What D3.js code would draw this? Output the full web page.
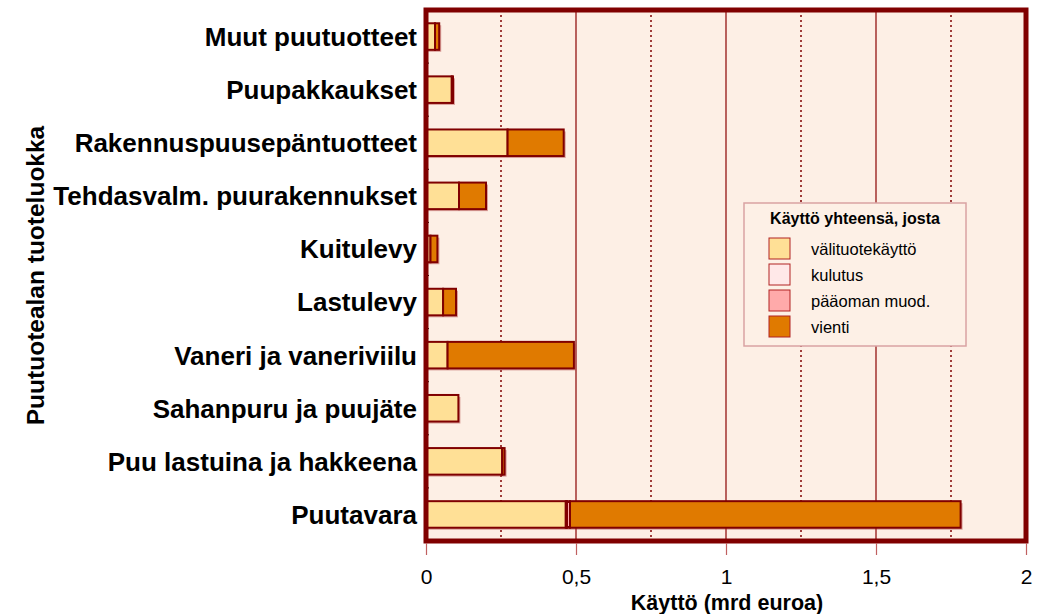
<!DOCTYPE html>
<html>
<head>
<meta charset="utf-8">
<script src="https://cdn.jsdelivr.net/npm/d3@7"></script>
<style>
  body { margin: 0; background: #fff; }
  text { font-family: Arial, "Liberation Sans", sans-serif; }
</style>
</head>
<body>
<svg id="chart" width="1043" height="614"></svg>
<script>
// categories, top to bottom
let categories = ["Muut puutuotteet", "Puupakkaukset", "Rakennuspuusepäntuotteet",
    "Tehdasvalm. puurakennukset", "Kuitulevy", "Lastulevy", "Vaneri ja vaneriviilu",
    "Sahanpuru ja puujäte", "Puu lastuina ja hakkeena", "Puutavara"];

// series values (mrd euroa)
let valituote = [0.030, 0.086, 0.272, 0.110, 0.015, 0.057, 0.072, 0.108, 0.254, 0.466];
let kulutus   = [0.000, 0.000, 0.000, 0.000, 0.000, 0.000, 0.000, 0.000, 0.000, 0.004];
let paaoma    = [0.000, 0.000, 0.000, 0.000, 0.000, 0.000, 0.000, 0.000, 0.000, 0.010];
let vienti    = [0.014, 0.004, 0.187, 0.090, 0.023, 0.043, 0.421, 0.000, 0.008, 1.302];

let seriesNames = ["välituotekäyttö", "kulutus", "pääoman muod.", "vienti"];
let seriesColors = ["#FFE096", "#FFE8E8", "#FFAAAA", "#E07A00"];

let xTicks = [0, 0.5, 1, 1.5, 2];
let xMinor = [0.25, 0.75, 1.25, 1.75];

let svg = d3.select("#chart");
let plotLeft = 426, plotRight = 1026, plotTop = 10, plotBottom = 541;
let dark = "#800000";

let xScale = d3.scaleLinear().domain([0, 2]).range([plotLeft, plotRight]);
let yScale = d3.scaleBand().domain(categories).range([plotTop, plotBottom]).paddingInner(0.5).paddingOuter(0.25);

// plot background
svg.append("rect")
    .attr("x", plotLeft).attr("y", plotTop)
    .attr("width", plotRight - plotLeft).attr("height", plotBottom - plotTop)
    .attr("fill", "#FDEFE5");

// grid lines
svg.append("g").selectAll("line").data(xTicks.slice(1, 4)).enter().append("line")
    .attr("x1", d => xScale(d)).attr("x2", d => xScale(d))
    .attr("y1", plotTop).attr("y2", plotBottom)
    .attr("stroke", "#8B0000").attr("stroke-width", 1.2);
svg.append("g").selectAll("line").data(xMinor).enter().append("line")
    .attr("x1", d => xScale(d)).attr("x2", d => xScale(d))
    .attr("y1", plotTop).attr("y2", plotBottom)
    .attr("stroke", dark).attr("stroke-width", 1.5)
    .attr("stroke-dasharray", "2,3");

// stacked rows
let rows = categories.map((c, i) => {
    let vals = [valituote[i], kulutus[i], paaoma[i], vienti[i]];
    let acc = 0, segs = [];
    vals.forEach((v, k) => {
        if (v > 0) segs.push({cat: c, x0: acc, x1: acc + v, k: k});
        acc += v;
    });
    return {cat: c, total: acc, segs: segs};
});

let bh = yScale.bandwidth();

// soft shadow behind each bar
svg.append("g").selectAll("rect").data(rows).enter().append("rect")
    .attr("x", xScale(0) + 2)
    .attr("y", d => yScale(d.cat) + 2)
    .attr("width", d => xScale(d.total) - xScale(0))
    .attr("height", bh)
    .attr("fill", "#B04040").attr("opacity", 0.45);

let bars = svg.append("g");
rows.forEach(r => {
    bars.selectAll(null).data(r.segs).enter().append("rect")
        .attr("x", d => xScale(d.x0))
        .attr("y", d => yScale(d.cat))
        .attr("width", d => xScale(d.x1) - xScale(d.x0))
        .attr("height", bh)
        .attr("fill", d => seriesColors[d.k])
        .attr("stroke", dark).attr("stroke-width", 2);
});

// small marks at band boundaries on the left axis
let bounds = categories.slice(1).map(c => yScale(c) - yScale.step() * yScale.paddingInner() / 2);
svg.append("g").selectAll("line").data(bounds).enter().append("line")
    .attr("x1", plotLeft).attr("x2", plotLeft + 3)
    .attr("y1", d => d).attr("y2", d => d)
    .attr("stroke", "#000").attr("stroke-width", 1);

// frame
svg.append("rect")
    .attr("x", plotLeft).attr("y", plotTop)
    .attr("width", plotRight - plotLeft).attr("height", plotBottom - plotTop)
    .attr("fill", "none").attr("stroke", dark).attr("stroke-width", 5);

// x axis
let xAxis = d3.axisBottom(xScale)
    .tickValues(xTicks)
    .tickFormat(d => String(d).replace(".", ","))
    .tickSize(12).tickPadding(14);
let gx = svg.append("g").attr("transform", "translate(0," + (plotBottom + 2) + ")").call(xAxis);
gx.select(".domain").remove();
gx.selectAll(".tick line").attr("stroke", "#C06060").attr("stroke-width", 1.2);
gx.selectAll(".tick text")
    .attr("fill", "#000")
    .style("font-size", "21px");

// category labels
svg.append("g").selectAll("text").data(categories).enter().append("text")
    .attr("x", plotLeft - 9)
    .attr("y", d => yScale(d) + bh / 2)
    .attr("dy", "0.36em")
    .attr("text-anchor", "end")
    .style("font-size", "26px").style("font-weight", "bold")
    .text(d => d);

// axis titles
svg.append("text")
    .attr("x", (plotLeft + plotRight) / 2 + 1).attr("y", 610)
    .attr("text-anchor", "middle")
    .style("font-size", "21.5px").style("font-weight", "bold")
    .text("Käyttö (mrd euroa)");

svg.append("text")
    .attr("transform", "translate(44," + ((plotTop + plotBottom) / 2) + ") rotate(-90)")
    .attr("text-anchor", "middle")
    .style("font-size", "24.5px").style("font-weight", "bold")
    .text("Puutuotealan tuoteluokka");

// legend
let lg = svg.append("g").attr("transform", "translate(744,203)");
lg.append("rect")
    .attr("width", 222).attr("height", 143)
    .attr("fill", "#FDF0E6").attr("stroke", "#D9A3A3").attr("stroke-width", 1.5);
lg.append("text")
    .attr("x", 111).attr("y", 21)
    .attr("text-anchor", "middle")
    .style("font-size", "16px").style("font-weight", "bold")
    .text("Käyttö yhteensä, josta");
let items = lg.selectAll("g.item").data(seriesNames).enter().append("g")
    .attr("transform", (d, i) => "translate(25," + (35 + i * 26) + ")");
items.append("rect")
    .attr("width", 21).attr("height", 21)
    .attr("fill", (d, i) => seriesColors[i])
    .attr("stroke", "#B22222").attr("stroke-width", 1);
items.append("text")
    .attr("x", 42).attr("y", 11).attr("dy", "0.36em")
    .style("font-size", "16.5px")
    .text(d => d);
</script>
</body>
</html>
